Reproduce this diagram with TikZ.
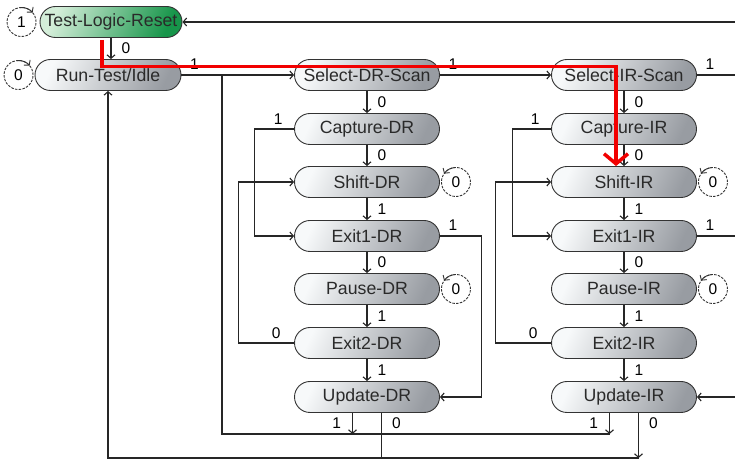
\documentclass[tikz,border=0pt]{standalone}
\usepackage{fontspec}
\setmainfont{Liberation Sans}
\usetikzlibrary{arrows.meta, positioning, calc}
\definecolor{nodegray}{HTML}{989CA2}
\definecolor{nodelight}{HTML}{F7F9FA}
\definecolor{rstgreen}{HTML}{17954A}
\definecolor{rstlight}{HTML}{D4EED9}
\definecolor{rimgray}{HTML}{333333}
\definecolor{txtgray}{HTML}{2A2A2A}
\definecolor{pathred}{HTML}{F20000}

\begin{document}
\begin{tikzpicture}[
  x=1pt, y=1pt,
  >={Straight Barb[length=3.5pt, width=8pt]},
  tapbox/.style={draw=rimgray, line width=0.9pt, rounded corners=15.5pt, minimum width=145pt, minimum height=31pt, inner sep=0pt, font=\fontsize{17.7}{20}\selectfont, text=txtgray, left color=nodelight, right color=nodegray, shading angle=65},
  rstbox/.style={tapbox, minimum width=142pt, left color=rstlight, right color=rstgreen, shading angle=65},
  loopnode/.style={circle, draw=rimgray, line width=0.9pt, dash pattern=on 2.5pt off 1.3pt, minimum size=29pt, inner sep=0pt, outer sep=0pt, font=\fontsize{15.5}{17}\selectfont},
  looparrow/.style={line width=0.9pt, draw=rimgray, ->},
  wire/.style={line width=1.1pt, draw=black!85},
  lbl/.style={font=\fontsize{15.5}{17}\selectfont, inner sep=1pt},
  redpath/.style={line width=3.5pt, draw=pathred, -{Straight Barb[length=10pt, width=24pt]}},
]

% Background
\fill[white] (0,0) rectangle (735,462);
\useasboundingbox (0,0) rectangle (735,462);

% Reset and idle
\node[rstbox] (tlr) at (111,440) {Test-Logic-Reset};
\node[tapbox, minimum width=146pt] (rti) at (108,387) {Run-Test/Idle};
\node[loopnode, left=3.5pt of tlr] (tlrl) {1};
\node[loopnode, left=1.5pt of rti] (rtil) {0};
\draw[looparrow] (tlrl.95) arc[start angle=95, end angle=40, radius=14.5pt];
\draw[looparrow] (rtil.95) arc[start angle=95, end angle=40, radius=14.5pt];

% DR column
\node[tapbox] (seldr) at (367,387) {Select-DR-Scan};
\node[tapbox] (capdr) at (367,333) {Capture-DR};
\node[tapbox] (shdr) at (367,280) {Shift-DR};
\node[tapbox] (ex1dr) at (367,226) {Exit1-DR};
\node[tapbox] (padr) at (367,173) {Pause-DR};
\node[tapbox] (ex2dr) at (367,119) {Exit2-DR};
\node[tapbox] (updr) at (367,65) {Update-DR};
\node[loopnode, right=1.5pt of shdr] (shdrl) {0};
\node[loopnode, right=1.5pt of padr] (padrl) {0};
\draw[looparrow] (shdrl.95) arc[start angle=95, end angle=145, radius=14.5pt];
\draw[looparrow] (padrl.95) arc[start angle=95, end angle=145, radius=14.5pt];

% IR column
\node[tapbox] (selir) at (624,387) {Select-IR-Scan};
\node[tapbox] (capir) at (624,333) {Capture-IR};
\node[tapbox] (shir) at (624,280) {Shift-IR};
\node[tapbox] (ex1ir) at (624,226) {Exit1-IR};
\node[tapbox] (pair) at (624,173) {Pause-IR};
\node[tapbox] (ex2ir) at (624,119) {Exit2-IR};
\node[tapbox] (upir) at (624,65) {Update-IR};
\node[loopnode, right=1.5pt of shir] (shirl) {0};
\node[loopnode, right=1.5pt of pair] (pairl) {0};
\draw[looparrow] (shirl.95) arc[start angle=95, end angle=145, radius=14.5pt];
\draw[looparrow] (pairl.95) arc[start angle=95, end angle=145, radius=14.5pt];

% Off-picture ends and junctions
\coordinate (etlr) at (740,440);
\coordinate (esel) at (740,387);
\coordinate (eex1) at (740,226);
\coordinate (eupd) at (740,65);
\coordinate (midl) at (222,28);
\coordinate (botl) at (rti.south |- 0,4);
\coordinate (dr1) at ([xshift=-14.5pt]updr.south);
\coordinate (dr0) at ([xshift=14.5pt]updr.south);
\coordinate (ir1) at ([xshift=-14.5pt]upir.south);
\coordinate (ir0) at ([xshift=14.5pt]upir.south);

% Top row
\draw[wire,->] (tlr.south) -- (tlr.south |- rti.north) node[lbl, midway, right=9pt] {0};
\draw[wire,->] (etlr) -- (tlr.east);
\draw[wire,->] (rti.east) -- (seldr.west) node[lbl, pos=0, above right=3.5pt and 7pt] {1};
\draw[wire,->] (seldr.east) -- (selir.west) node[lbl, pos=0, above right=3.5pt and 7pt] {1};
\draw[wire] (selir.east) -- (esel) node[lbl, pos=0, above right=3.5pt and 7pt] {1};

% DR transitions
\draw[wire,->] (seldr) -- (capdr) node[lbl, midway, right=9pt] {0};
\draw[wire,->] (capdr) -- (shdr) node[lbl, midway, right=9pt] {0};
\draw[wire,->] (shdr) -- (ex1dr) node[lbl, midway, right=9pt] {1};
\draw[wire,->] (ex1dr) -- (padr) node[lbl, midway, right=9pt] {0};
\draw[wire,->] (padr) -- (ex2dr) node[lbl, midway, right=9pt] {1};
\draw[wire,->] (ex2dr) -- (updr) node[lbl, midway, right=9pt] {1};
\draw[wire,->] (capdr.west) -- ++(-40,0) node[lbl, pos=0, above left=3pt and 10pt] {1} |- (ex1dr.west);
\draw[wire,->] (ex2dr.west) -- ++(-56,0) node[lbl, pos=0, above left=3pt and 12pt] {0} |- (shdr.west);
\draw[wire,->] (ex1dr.east) -- ++(41.5,0) node[lbl, pos=0, above right=3.5pt and 7pt] {1} |- (updr.east);

% IR transitions
\draw[wire,->] (selir) -- (capir) node[lbl, midway, right=9pt] {0};
\draw[wire,->] (capir) -- (shir) node[lbl, midway, right=9pt] {0};
\draw[wire,->] (shir) -- (ex1ir) node[lbl, midway, right=9pt] {1};
\draw[wire,->] (ex1ir) -- (pair) node[lbl, midway, right=9pt] {0};
\draw[wire,->] (pair) -- (ex2ir) node[lbl, midway, right=9pt] {1};
\draw[wire,->] (ex2ir) -- (upir) node[lbl, midway, right=9pt] {1};
\draw[wire,->] (capir.west) -- ++(-39,0) node[lbl, pos=0, above left=3pt and 10pt] {1} |- (ex1ir.west);
\draw[wire,->] (ex2ir.west) -- ++(-55.5,0) node[lbl, pos=0, above left=3pt and 12pt] {0} |- (shir.west);
\draw[wire] (ex1ir.east) -- (eex1) node[lbl, pos=0, above right=3.5pt and 7pt] {1};
\draw[wire,->] (eupd) -- (upir.east);

% Update exits
\draw[wire,->] (dr1) -- (dr1 |- midl) node[lbl, midway, left=10pt] {1};
\draw[wire,->] (ir1) -- (ir1 |- midl) node[lbl, midway, left=10pt] {1};
\draw[wire] (ir1 |- midl) -- (midl) -- (midl |- rti.east);
\draw[wire] (dr0) -- (dr0 |- botl) node[lbl, pos=0.22, right=9pt] {0};
\draw[wire,->] (ir0) -- (ir0 |- botl) node[lbl, pos=0.22, right=9pt] {0};
\draw[wire,->] (ir0 |- botl) -- (botl) -- (rti.south);

% Highlighted path
\coordinate (redk) at (616,395.5);
\draw[redpath] ([xshift=-9pt, yshift=-2pt]tlr.south) |- (redk) -- (redk |- shir.north);

\end{tikzpicture}
\end{document}
